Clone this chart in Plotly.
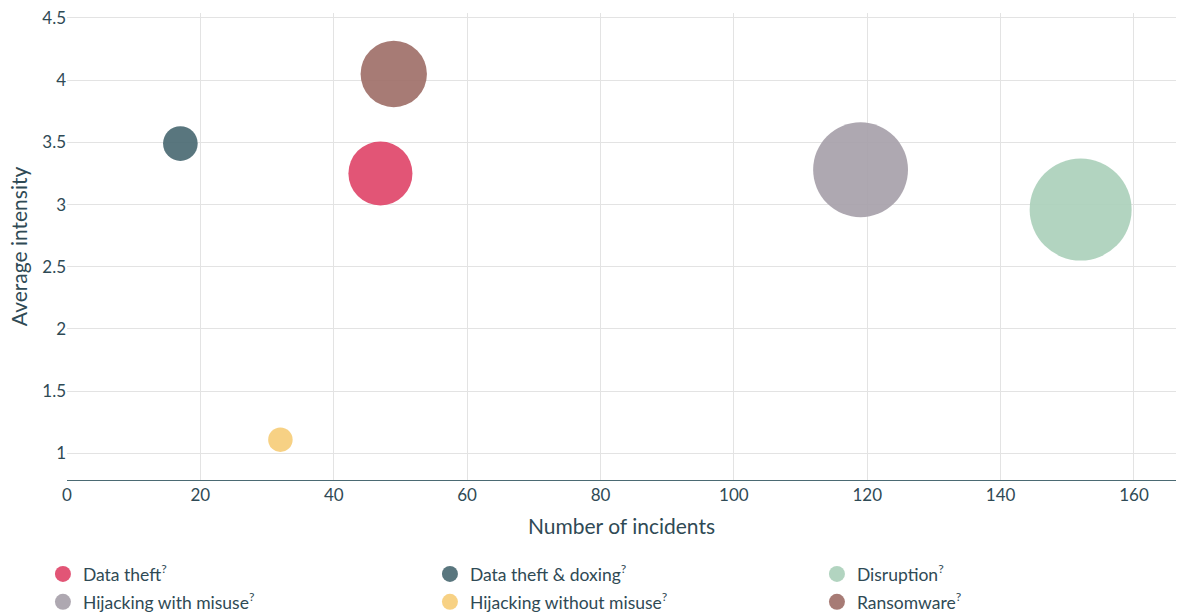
import plotly.graph_objects as go

categories = ["Data theft", "Data theft & doxing", "Disruption",
              "Hijacking with misuse", "Hijacking without misuse", "Ransomware"]
incidents = [47, 17, 152, 119, 32, 49]
intensity = [3.25, 3.49, 2.96, 3.28, 1.11, 4.05]
weight = [41, 12, 104, 90, 6, 44]
colors = ["#e0466a", "#4b6a73", "#abd0bb", "#a7a1aa", "#f6cd79", "#9f7069"]

x_ticks = [0, 20, 40, 60, 80, 100, 120, 140, 160]
y_ticks = [1, 1.5, 2, 2.5, 3, 3.5, 4, 4.5]

TXT = "#2f4a55"
fig = go.Figure()
for i, (name, x, y, w, c) in enumerate(zip(categories, incidents, intensity, weight, colors)):
    fig.add_trace(go.Scatter(
        x=[x], y=[y], mode="markers", name=name, legendgroup=name,
        showlegend=False,
        marker=dict(size=[w], sizemode="area", sizeref=0.02, color=c,
                    opacity=0.92, line=dict(width=0)),
    ))
    # legend-only entry with a uniform swatch size
    fig.add_trace(go.Scatter(
        x=[None], y=[None], mode="markers", legendgroup=name,
        name=name + "<sup>?</sup>",
        legend="legend" if i < 3 else "legend2",
        marker=dict(size=22, color=c, opacity=0.92, line=dict(width=0)),
    ))

leg_common = dict(orientation="h", x=-0.0217, xanchor="left", yanchor="middle",
                  entrywidth=342, entrywidthmode="pixels", itemsizing="trace",
                  font=dict(size=17.5, color=TXT), tracegroupgap=0,
                  bgcolor="rgba(0,0,0,0)")

fig.update_layout(
    width=1177, height=615,
    margin=dict(l=67, r=1, t=13, b=135, autoexpand=False),
    paper_bgcolor="white", plot_bgcolor="white",
    font=dict(family="Lato, sans-serif", color=TXT, size=16),
    xaxis=dict(range=[0, 166.3], tickvals=x_ticks, showgrid=True,
               gridcolor="#e3e3e3", showline=True, linecolor="#4b6a73",
               linewidth=1, zeroline=False, ticks="", tickfont=dict(size=17),
               automargin=False,
               title=dict(text="Number of incidents", font=dict(size=21), standoff=14)),
    yaxis=dict(range=[0.786, 4.54], tickvals=y_ticks, showgrid=True,
               gridcolor="#e3e3e3", showline=False, zeroline=False, ticks="",
               tickfont=dict(size=17), automargin=False,
               title=dict(text="Average intensity", font=dict(size=21), standoff=8)),
    legend=dict(y=-0.2013, **leg_common),
    legend2=dict(y=-0.2612, **leg_common),
    showlegend=True,
)

fig.write_html("out.html")
